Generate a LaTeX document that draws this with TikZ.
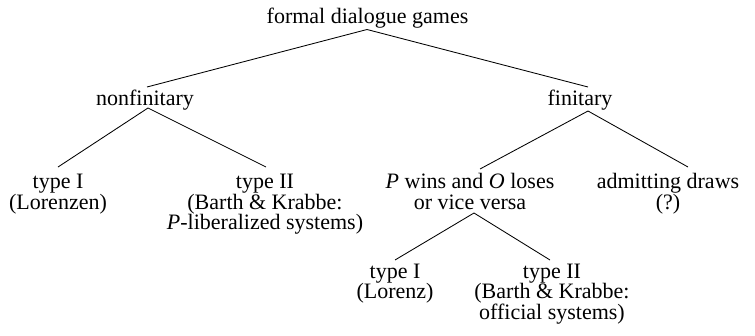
\documentclass[tikz,border=0pt]{standalone}
\usepackage{fontspec}
\setmainfont{Liberation Serif}
\usetikzlibrary{calc}
\begin{document}
\begin{tikzpicture}[x=1pt,y=-1pt,
  lab/.style={anchor=base,inner sep=0pt,align=center,font=\fontsize{22pt}{20.5pt}\selectfont},
  edge/.style={line width=0.85pt}]
\useasboundingbox (0,0) rectangle (755,335);
% anchor=base of a multi-line node is the baseline of its last line
\node[lab] (root) at (367.5,23) {formal dialogue games};
\node[lab] (nf) at (145,105) {nonfinitary};
\node[lab] (fin) at (580,105) {finitary};
\node[lab] (t1) at (58,209) {type I\\(Lorenzen)};
\node[lab] (t2) at (265,229.5) {type II\\(Barth \& Krabbe:\\\textit{P}-liberalized systems)};
\node[lab] (pw) at (470,209) {\textit{P} wins and \textit{O} loses\\or vice versa};
\node[lab] (ad) at (668,209) {admitting draws\\(?)};
\node[lab] (s1) at (395,298.5) {type I\\(Lorenz)};
\node[lab] (s2) at (552,319) {type II\\(Barth \& Krabbe:\\official systems)};
\draw[edge] ($(nf.base)+(2,-18)$) -- ($(root.base)+(-0.5,6.5)$) -- ($(fin.base)+(8,-18)$);
\draw[edge] ($(t1.base)+(0,-42)$) -- ($(nf.base)+(3,3)$) -- ($(t2.base)+(1,-62.5)$);
\draw[edge] ($(pw.base)+(10,-40)$) -- ($(fin.base)+(8,6)$) -- ($(ad.base)+(20,-42)$);
\draw[edge] ($(s1.base)+(0,-38.5)$) -- ($(pw.base)+(4,4)$) -- ($(s2.base)+(-2,-59)$);
\end{tikzpicture}
\end{document}
